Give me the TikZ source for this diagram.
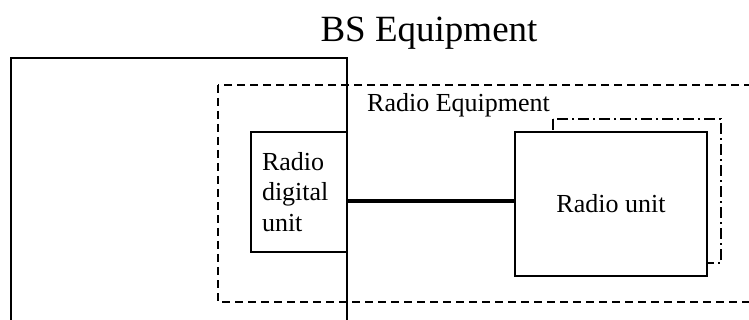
\documentclass[tikz,border=0pt]{standalone}
\usepackage{fontspec}
\setmainfont{Liberation Serif}
\tikzset{
  unitbox/.style={draw, line width=1.5pt, fill=white, font=\fontsize{26}{30.5}\selectfont},
  dashbox/.style={line width=1.5pt, dash pattern=on 8pt off 5pt},
  dotbox/.style={line width=1.2pt, dash pattern=on 11pt off 4pt on 2pt off 4pt},
}
\begin{document}
\begin{tikzpicture}
            \begin{scope}[x=1pt, y=-1pt]
            \useasboundingbox (0, 0) rectangle (749, 320);
            \clip (0, 0) rectangle (749, 320);

            \draw[line width=1.5pt] (11, 58) rectangle (347, 345);
            \node[anchor=base, font=\fontsize{37}{44}\selectfont] (bs) at (429, 42) { BS Equipment };

            \draw[dashbox] (218, 85) rectangle (775, 302);
            \node[anchor=base west, inner sep=0pt, font=\fontsize{26}{30.5}\selectfont] (re) at (367, 112) { Radio Equipment };

            \draw[dotbox] (553, 119) rectangle (721, 263);

            \node[unitbox, minimum width=96pt, minimum height=120pt, text width=74pt,
                  inner xsep=11pt, align=left] (rdu) at (299, 192) { Radio\\digital\\unit };
            \node[unitbox, minimum width=192pt, minimum height=144pt] (ru) at (611, 204) { Radio unit };

            \coordinate (link) at (430, 201);
            \draw[line width=3.5pt] (link -| rdu.east) -- (link -| ru.west);
            \end{scope}
        \end{tikzpicture}
\end{document}
